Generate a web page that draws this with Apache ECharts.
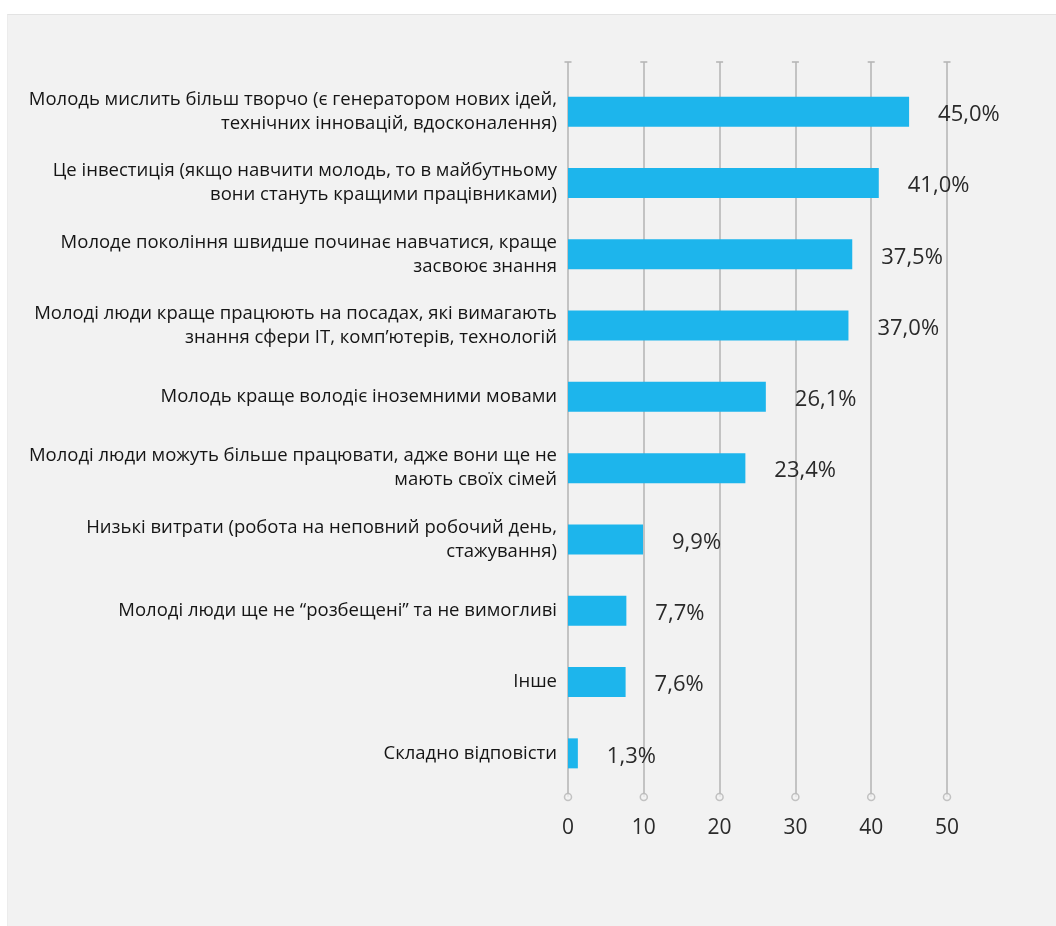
<!DOCTYPE html>
<html>
<head>
<meta charset="utf-8">
<script src="https://cdn.jsdelivr.net/npm/echarts@6/dist/echarts.min.js"></script>
<style>
  html, body { margin: 0; padding: 0; background: #ffffff; }
  #panel { position: absolute; left: 7px; top: 14px; right: 0; bottom: 0; background: #f2f2f2; border-top: 1px solid #e3e3e3; border-left: 1px solid #ececec; }
  #chart { position: absolute; left: 0; top: 0; width: 1056px; height: 926px; }
</style>
</head>
<body>
<div id="panel"></div>
<div id="chart"></div>
<script>
// Reasons for hiring young people, share of respondents (%)
const categories = [
  'Молодь мислить більш творчо (є генератором нових ідей,\nтехнічних інновацій, вдосконалення)',
  'Це інвестиція (якщо навчити молодь, то в майбутньому\nвони стануть кращими працівниками)',
  'Молоде покоління швидше починає навчатися, краще\nзасвоює знання',
  'Молоді люди краще працюють на посадах, які вимагають\nзнання сфери ІТ, комп’ютерів, технологій',
  'Молодь краще володіє іноземними мовами',
  'Молоді люди можуть більше працювати, адже вони ще не\nмають своїх сімей',
  'Низькі витрати (робота на неповний робочий день,\nстажування)',
  'Молоді люди ще не “розбещені” та не вимогливі',
  'Інше',
  'Складно відповісти'
];
const values = [45.0, 41.0, 37.5, 37.0, 26.1, 23.4, 9.9, 7.7, 7.6, 1.3];
const tickValues = [0, 10, 20, 30, 40, 50];

const chart = echarts.init(document.getElementById('chart'), null, { renderer: 'canvas' });

const gridLeft = 568, gridRight = 109;
const lineColor = '#c3c3c3';

chart.setOption({
  backgroundColor: 'transparent',
  animation: false,
  grid: [
    { left: gridLeft, right: gridRight, top: 76, bottom: 137 },
    { left: gridLeft, right: gridRight, top: 62, bottom: 129 }
  ],
  xAxis: [
    { gridIndex: 0, type: 'value', min: 0, max: 50, interval: 10, show: false },
    {
      gridIndex: 1, type: 'value', min: 0, max: 50, interval: 10,
      axisLine: { show: false },
      axisTick: { show: false },
      splitLine: { show: true, lineStyle: { color: lineColor, width: 2 } },
      axisLabel: { margin: 21, fontSize: 21, color: '#2a2a2a', fontFamily: 'Open Sans' }
    }
  ],
  yAxis: [
    {
      gridIndex: 0, type: 'category', inverse: true, data: categories,
      axisLine: { show: false },
      axisTick: { show: false },
      splitLine: { show: false },
      axisLabel: {
        margin: 11, fontSize: 18.5, lineHeight: 24, color: '#151515',
        fontFamily: 'Open Sans', align: 'right'
      }
    },
    { gridIndex: 1, type: 'value', min: 0, max: 1, show: false }
  ],
  series: [
    {
      type: 'bar',
      xAxisIndex: 0, yAxisIndex: 0,
      data: values,
      barWidth: 30,
      z: 3,
      itemStyle: { color: '#1db5ec' },
      label: {
        show: true, position: 'right', distance: 29, offset: [0, 3],
        fontSize: 22, color: '#2a2a2a', fontFamily: 'Open Sans',
        formatter: p => p.value.toFixed(1).replace('.', ',') + '%'
      }
    },
    {
      // small circles at the foot of each grid line
      type: 'scatter',
      xAxisIndex: 1, yAxisIndex: 1,
      data: tickValues.map(v => [v, 0]),
      symbol: 'circle',
      symbolSize: 7,
      silent: true,
      itemStyle: { color: '#f2f2f2', borderColor: '#b5b5b5', borderWidth: 1.5 }
    },
    {
      // short caps on top of each grid line
      type: 'scatter',
      xAxisIndex: 1, yAxisIndex: 1,
      data: tickValues.map(v => [v, 1]),
      symbol: 'rect',
      symbolSize: [7, 2],
      silent: true,
      itemStyle: { color: '#b5b5b5' }
    }
  ]
});
</script>
</body>
</html>
